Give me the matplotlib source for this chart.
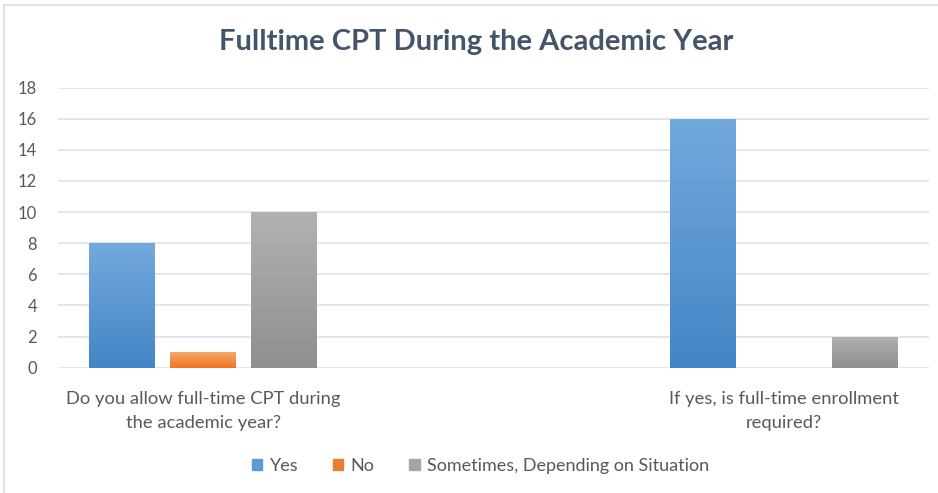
import numpy as np
import matplotlib
matplotlib.use("Agg")
import matplotlib.pyplot as plt
from matplotlib.colors import LinearSegmentedColormap
from matplotlib.lines import Line2D

# ---- data ----
categories = ["Do you allow full-time CPT during\nthe academic year?", "",
              "If yes, is full-time enrollment\nrequired?"]
series_names = ["Yes", "No", "Sometimes, Depending on Situation"]
yes_vals = [8, 0, 16]
no_vals = [1, 0, 0]
sometimes_vals = [10, 0, 2]
y_ticks = [0, 2, 4, 6, 8, 10, 12, 14, 16, 18]

# ---- styles ----
grad_colors = [("#73a9dd", "#4385c6"), ("#f5a86c", "#ef7420"), ("#b2b2b2", "#8f8f8f")]
solid_colors = ["#5b9bd5", "#ed7d31", "#a5a5a5"]
text_gray = "#595959"
grid_col = "#e1e5eb"

plt.rcParams['font.family'] = ['Lato', 'DejaVu Sans']

fig = plt.figure(figsize=(9.38, 4.93), dpi=100)
ax = fig.add_axes([58/938, 1-367.7/493, 871/938, (367.7-87.5)/493])

x = np.arange(len(categories))
bw = 0.227
pitch = 0.279
all_vals = [yes_vals, no_vals, sometimes_vals]

def grad_fill(ax, bars, c_top, c_bot):
    cmap = LinearSegmentedColormap.from_list("g", [c_bot, c_top])
    grad = np.linspace(0, 1, 256).reshape(-1, 1)
    for b in bars:
        h = b.get_height()
        if h <= 0:
            b.set_visible(False)
            continue
        bx, by, w = b.get_x(), b.get_y(), b.get_width()
        im = ax.imshow(grad, extent=[bx, bx + w, by, by + h], origin="lower",
                       cmap=cmap, aspect="auto", zorder=3, interpolation="bilinear")
        im.set_clip_path(b)

for i, (vals, name) in enumerate(zip(all_vals, series_names)):
    bars = ax.bar(x + (i - 1) * pitch, vals, width=bw, color=solid_colors[i],
                  edgecolor="none", zorder=2, label=name)
    grad_fill(ax, bars, *grad_colors[i])

ax.set_xlim(-0.5, len(categories) - 0.5)
ax.set_ylim(0, 18)
ax.set_yticks(y_ticks)
ax.set_xticks(x)
ax.set_xticklabels(categories, fontsize=13.2, color=text_gray, linespacing=1.6)
ax.tick_params(axis='y', labelsize=12, labelcolor=text_gray, length=0, pad=15)
ax.tick_params(axis='x', length=0, pad=17)
for lbl in ax.get_yticklabels():
    lbl.set_horizontalalignment('right')
ax.yaxis.grid(True, color=grid_col, linewidth=1.3, zorder=0)
ax.set_axisbelow(True)
for s in ax.spines.values():
    s.set_visible(False)

fig.text(0.508, 1 - 42/493, "Fulltime CPT During the Academic Year", ha="center", va="center",
         fontsize=21, fontweight="bold", color="#44546a")

handles = [plt.Rectangle((0, 0), 1, 1, color=c) for c in solid_colors]
fig.legend(handles, series_names, loc="center", bbox_to_anchor=(0.512, 1 - 466/493),
           ncol=3, frameon=False, fontsize=13, labelcolor=text_gray,
           handlelength=0.6, handleheight=0.6, handletextpad=0.4, columnspacing=1.9)

# chart frame (top and left visible)
fig.add_artist(Line2D([4/938, 4/938], [0, 1 - 5/493], transform=fig.transFigure,
                      color="#dfe3ea", linewidth=1.5))
fig.add_artist(Line2D([4/938, 1], [1 - 5/493, 1 - 5/493], transform=fig.transFigure,
                      color="#dfe3ea", linewidth=1.5))

fig.savefig("out.png", dpi=100)
